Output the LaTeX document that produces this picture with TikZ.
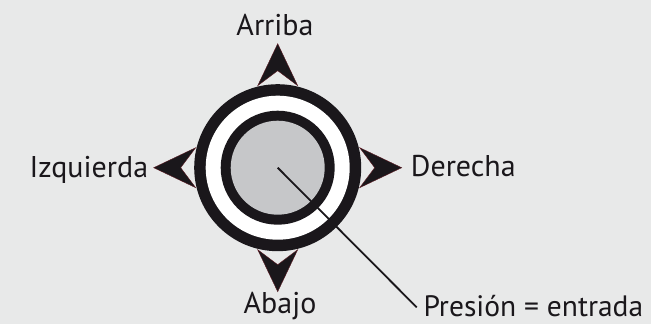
\documentclass[tikz,border=0pt]{standalone}
\usepackage{fontspec}
\setmainfont{PT Sans}
\usetikzlibrary{calc}
\definecolor{bg}{HTML}{E8E9E9}
\definecolor{ink}{HTML}{1A171B}
\definecolor{knobgray}{HTML}{C6C7C9}
\definecolor{rim}{HTML}{5A1A22}
\begin{document}
\begin{tikzpicture}[x=1pt,y=1pt,
  lbl/.style={inner sep=0pt,font=\fontsize{30}{33}\selectfont,text=ink},
  pointer/.style={fill=ink,draw=rim,line width=0.4pt,line join=miter},
  ringline/.style={ink,line width=1.8pt}]
\fill[bg] (0,0) rectangle (651,324);
\useasboundingbox (0,0) rectangle (651,324);
\coordinate (c) at (277.7,156.3);
% pointers
\foreach \a in {0,90,180,270}{
  \filldraw[pointer] ($(c)+(\a:124)$) -- ($(c)+(\a:82)+(\a+90:20)$) -- ($(c)+(\a:97)$) -- ($(c)+(\a:82)+(\a-90:20)$) -- cycle;
}
% rings
\fill[ink] (c) circle (83.5);
\fill[white] (c) circle (72);
\fill[ink] (c) circle (57);
\node[circle,fill=knobgray,minimum size=94pt,inner sep=0pt] (knob) at (c) {};
% labels
\node[lbl,anchor=base] (up) at (275,288) {Arriba};
\node[lbl,anchor=base east] (left) at (148.3,146.3) {Izquierda};
\node[lbl,anchor=base west] (right) at (410.7,147.3) {Derecha};
\node[lbl,anchor=base] (down) at (280,10.7) {Abajo};
\node[lbl,anchor=base west,text depth=0pt,font=\fontsize{29.5}{33}\selectfont] (press) at (423.3,7) {Presión = entrada};
\coordinate (lineend) at (416.7,16.7);
\draw[ringline] (knob.center) -- (lineend);
\end{tikzpicture}
\end{document}
